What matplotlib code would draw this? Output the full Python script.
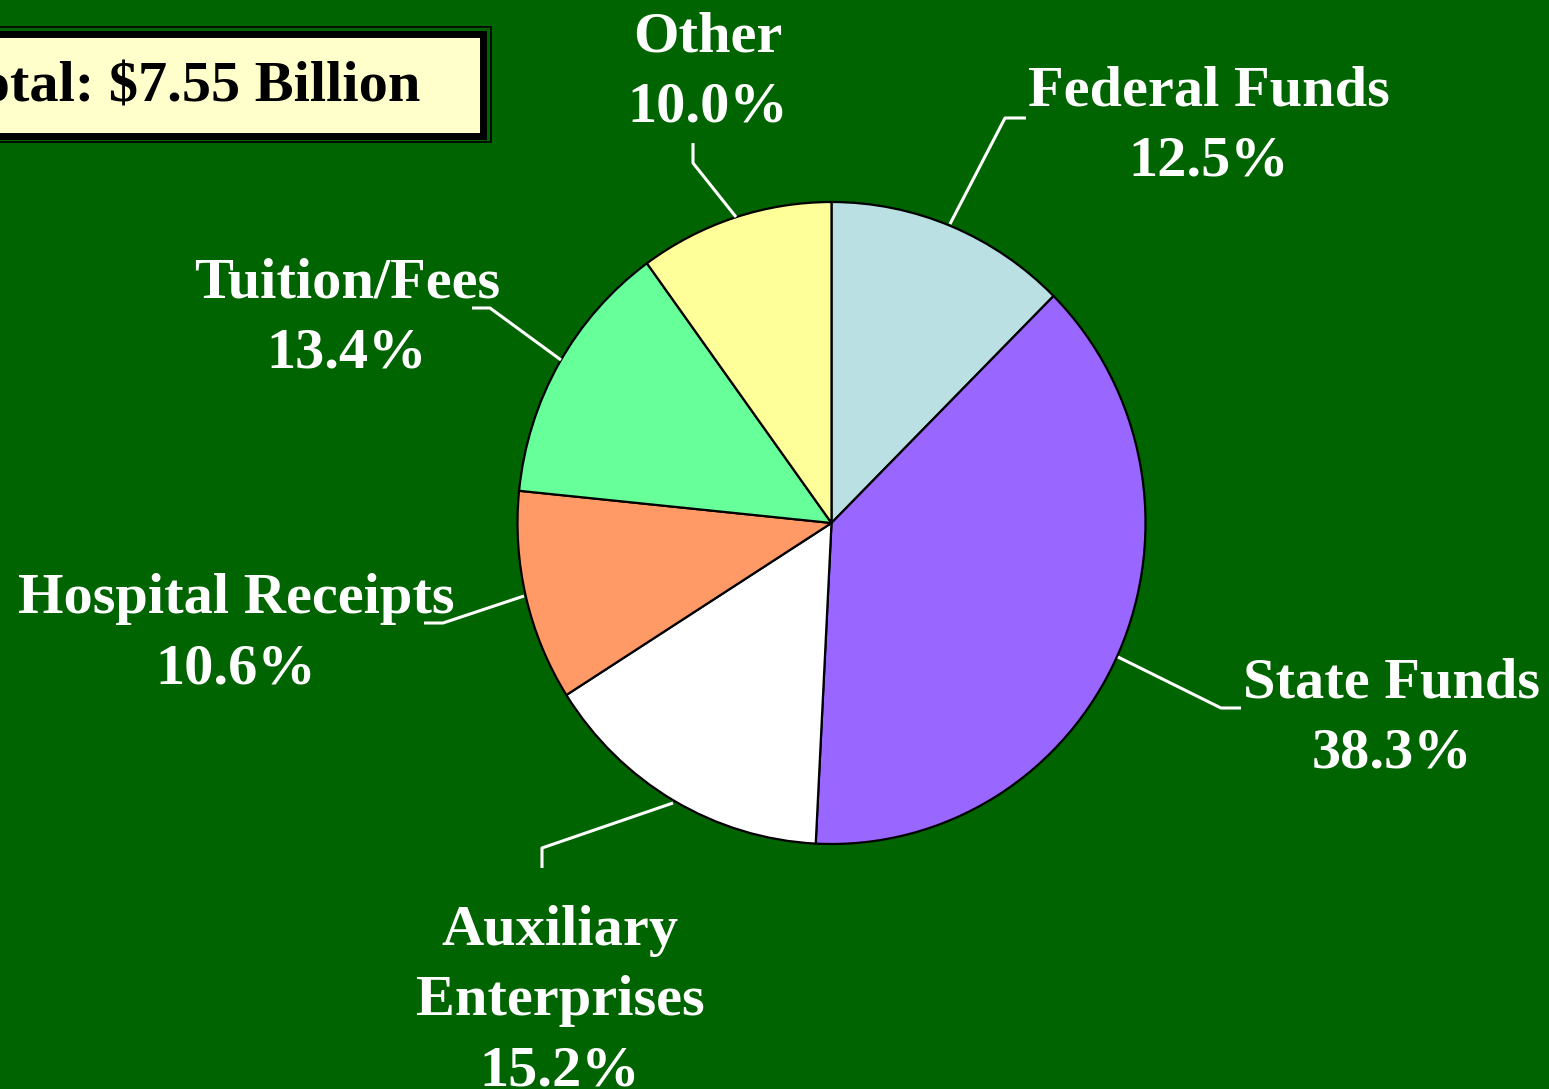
import matplotlib.pyplot as plt
from matplotlib.patches import Rectangle
from matplotlib.transforms import Affine2D

W, H = 1549, 1089

sources = ['Federal Funds', 'State Funds', 'Auxiliary\nEnterprises',
           'Hospital Receipts', 'Tuition/Fees', 'Other']
shares = [12.5, 38.3, 15.2, 10.6, 13.4, 10.0]
colors = ['#BBE0E3', '#9966FF', '#FFFFFF', '#FF9966', '#66FF99', '#FFFF99']
title = 'Total: $7.55 Billion'

bg = '#006400'
font = 'Liberation Serif'

# label anchor (x center, baseline of first line) in pixels, and leader lines
label_pos = [(1209, 105), (1392, 698), (560, 945), (236, 613), (347, 297), (708, 52)]
leaders = [
    [(950, 224), (1005, 118), (1026, 118)],
    [(1118, 657), (1221, 708), (1241, 708)],
    [(673, 803), (542, 848), (542, 868)],
    [(524, 596), (443, 623), (424, 623)],
    [(561, 360), (490, 308), (472, 308)],
    [(736, 217), (693, 163), (693, 143)],
]

fig = plt.figure(figsize=(W / 100, H / 100), dpi=100)
fig.patch.set_facecolor(bg)
ax = fig.add_axes([0, 0, 1, 1])
ax.set_facecolor(bg)

cx, cy, r = 831.5, H - 523, 314
wedges, _ = ax.pie(shares, colors=colors, startangle=90, counterclock=False,
                   center=(cx, cy), radius=r, frame=True,
                   wedgeprops=dict(edgecolor='black', linewidth=1.6))
# the original pie is slightly taller than wide
squash = Affine2D().translate(-cx, -cy).scale(1, 321 / 314).translate(cx, cy)
for w in wedges:
    w.set_transform(squash + ax.transData)

ax.set_xlim(0, W)
ax.set_ylim(0, H)
ax.axis('off')

# leader lines
for pts in leaders:
    xs = [p[0] for p in pts]
    ys = [H - p[1] for p in pts]
    ax.plot(xs, ys, color='white', lw=2.2, solid_capstyle='butt')

# labels
for name, pct, (lx, ly) in zip(sources, shares, label_pos):
    lines = name.split('\n') + ['%.1f%%' % pct]
    for k, line in enumerate(lines):
        ax.text(lx, H - (ly + 70 * k), line, ha='center', va='baseline',
                color='white', fontsize=42, fontweight='bold', family=font)

# title box
ax.add_patch(Rectangle((-40, H - 141.5), 531, 115, facecolor='none',
                       edgecolor='black', lw=1.2))
ax.add_patch(Rectangle((-40, H - 135.5), 523.5, 102, facecolor='#FFFFCC',
                       edgecolor='black', lw=5))
ax.text(420, H - 102, title, ha='right', va='baseline', color='black',
        fontsize=42, fontweight='bold', family=font)

fig.savefig('out.png', dpi=100, facecolor=bg)
